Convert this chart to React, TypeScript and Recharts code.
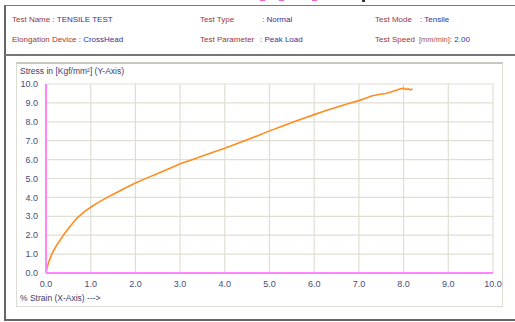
import { LineChart, Line, XAxis, YAxis, CartesianGrid } from 'recharts';

// strain (%) vs stress (Kgf/mm²)
const strain = [
    0, 0.03, 0.08, 0.14, 0.22, 0.31, 0.42, 0.55, 0.7, 0.86, 1.0, 1.18, 1.36, 1.55, 1.75, 2.0,
    2.25, 2.5, 2.75, 3.0, 3.25, 3.5, 3.75, 4.0, 4.25, 4.5, 4.75, 5.0, 5.25, 5.5, 5.75, 6.0,
    6.25, 6.5, 6.75, 7.0, 7.15, 7.3, 7.45, 7.6, 7.75, 7.9, 8.0, 8.05, 8.1, 8.15, 8.2,
];
const stress = [
    0, 0.35, 0.7, 1.05, 1.4, 1.72, 2.1, 2.5, 2.92, 3.25, 3.48, 3.75, 3.99, 4.22, 4.47, 4.76,
    5.02, 5.26, 5.52, 5.78, 5.98, 6.19, 6.4, 6.6, 6.82, 7.05, 7.28, 7.52, 7.74, 7.96, 8.18, 8.38,
    8.58, 8.77, 8.96, 9.12, 9.24, 9.38, 9.44, 9.5, 9.6, 9.72, 9.78, 9.71, 9.74, 9.69, 9.74,
];
const xTicks = [0, 1, 2, 3, 4, 5, 6, 7, 8, 9, 10];
const yTicks = [0, 1, 2, 3, 4, 5, 6, 7, 8, 9, 10];

const RED = '#9a3838';
const BLUE = '#34349a';
const TICK = '#4a4a78';

const font = '"Liberation Sans", Arial, sans-serif';

function Field({ left, top, label, value, unit }: { left: number; top: number; label: string; value: string; unit?: string }) {
    return (
        <div style={{ position: 'absolute', left, top, fontSize: 8, fontFamily: font, whiteSpace: 'nowrap' }}>
            <span style={{ color: RED }}>{label}</span>
            {unit && <span style={{ color: '#a85050', fontSize: 7.5 }}>{unit}</span>}
            <span style={{ color: BLUE }}>{value}</span>
        </div>
    );
}

export default function App() {
    const data = strain.map((s, i) => ({ strain: s, stress: stress[i] }));

    return (
        <div style={{ position: 'fixed', left: 0, top: 0, width: 515, height: 322, background: '#fff', overflow: 'hidden' }}>
            {/* clipped title remnants */}
            <div style={{ position: 'absolute', left: 260, top: 0, width: 5, height: 1, background: '#ee60d0' }} />
            <div style={{ position: 'absolute', left: 279, top: 0, width: 5, height: 1, background: '#ee60d0' }} />
            <div style={{ position: 'absolute', left: 312, top: 0, width: 5, height: 1, background: '#ee60d0' }} />
            <div style={{ position: 'absolute', left: 362, top: 0, width: 3, height: 2, background: '#333' }} />

            {/* outer frame */}
            <div style={{ position: 'absolute', left: 4, top: 5, width: 520, height: 313, borderLeft: '2px solid #666', borderTop: '1px solid #777', borderBottom: '2px solid #666' }} />
            <div style={{ position: 'absolute', left: 5, top: 54, width: 520, height: 0, borderTop: '2px solid #777' }} />

            <Field left={12} top={15} label="Test Name : " value="TENSILE TEST" />
            <Field left={12} top={35} label="Elongation Device : " value="CrossHead" />
            <Field left={200} top={15} label="Test Type" value="" />
            <Field left={262} top={15} label="" value=": Normal" />
            <Field left={200} top={35} label="Test Parameter" value="" />
            <Field left={260} top={35} label="" value=": Peak Load" />
            <Field left={375} top={15} label="Test Mode" value="" />
            <Field left={420} top={15} label="" value=": Tensile" />
            <Field left={375} top={35} label="Test Speed" value="" />
            <Field left={419} top={35} label="" unit="[mm/min]" value=": 2.00" />

            {/* chart panel */}
            <div style={{ position: 'absolute', left: 16, top: 62, width: 485, height: 242, border: '1px solid #dcdcd4', borderTop: '2px solid #c8c8c0', background: '#fff' }} />

            <div style={{ position: 'absolute', left: 20, top: 66, fontSize: 8.5, fontFamily: font, color: '#3c3c6e', whiteSpace: 'nowrap' }}>
                Stress in [Kgf/mm²] (Y-Axis)
            </div>
            <div style={{ position: 'absolute', left: 20, top: 293, fontSize: 8.5, fontFamily: font, color: '#3c3c6e', whiteSpace: 'nowrap' }}>
                % Strain (X-Axis) ---&gt;
            </div>

            <div style={{ position: 'absolute', left: 0, top: 0 }}>
                <LineChart width={515} height={322} data={data} margin={{ top: 84, right: 22, bottom: 29, left: 16 }}>
                    <CartesianGrid stroke="#e0ded4" strokeWidth={1.2} />
                    <XAxis
                        dataKey="strain"
                        type="number"
                        domain={[0, 10]}
                        ticks={xTicks}
                        height={20}
                        tickLine={false}
                        axisLine={{ stroke: '#ff84ff', strokeWidth: 2 }}
                        tick={{ fill: TICK, fontSize: 9, fontFamily: font }}
                        tickFormatter={(v) => v.toFixed(1)}
                        interval={0}
                    />
                    <YAxis
                        type="number"
                        domain={[0, 10]}
                        ticks={yTicks}
                        width={30}
                        tickLine={false}
                        axisLine={{ stroke: '#ff84ff', strokeWidth: 2 }}
                        tick={{ fill: TICK, fontSize: 9, fontFamily: font }}
                        tickFormatter={(v) => v.toFixed(1)}
                        interval={0}
                    />
                    <Line
                        type="linear"
                        dataKey="stress"
                        stroke="#ff8c1e"
                        strokeWidth={1.6}
                        dot={false}
                        isAnimationActive={false}
                    />
                </LineChart>
            </div>
        </div>
    );
}
